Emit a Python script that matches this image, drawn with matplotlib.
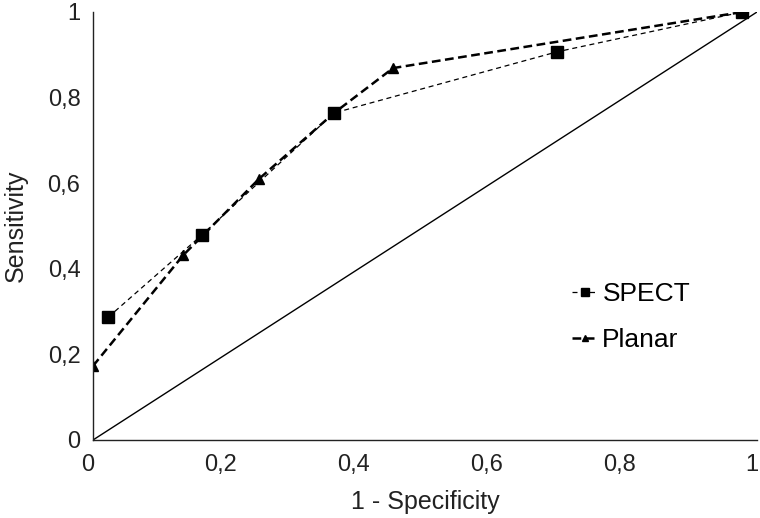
import matplotlib
matplotlib.use("Agg")
import matplotlib.pyplot as plt
import matplotlib.transforms as mtransforms

plt.rcParams['font.family'] = ['Liberation Sans', 'DejaVu Sans']

# Data (1 - specificity, sensitivity)
spect_x = [0.023, 0.164, 0.363, 0.699, 0.978]
spect_y = [0.287, 0.479, 0.764, 0.907, 1.0]
planar_x = [0.0, 0.136, 0.25, 0.363, 0.452, 0.978]
planar_y = [0.173, 0.432, 0.610, 0.764, 0.869, 1.0]
diag = [0.0, 1.0]
tick_vals = [0, 0.2, 0.4, 0.6, 0.8, 1.0]
tick_labels = ["0", "0,2", "0,4", "0,6", "0,8", "1"]

fig = plt.figure(figsize=(7.6, 5.18), dpi=100)
ax = fig.add_axes([93/760, 78/518, (757-93)/760, (440-12)/518])

ax.plot(diag, diag, color='black', lw=1.0, zorder=1)
ax.plot(planar_x, planar_y, color='black', lw=1.8, ls=(0, (3.5, 1.8)),
        marker='^', markersize=7, label='Planar', zorder=2)
ax.plot(spect_x, spect_y, color='black', lw=0.9, ls=(0, (4, 3)),
        marker='s', markersize=8, label='SPECT', zorder=3)

ax.set_xlim(0, 1)
ax.set_ylim(0, 1)
ax.set_xticks(tick_vals)
ax.set_xticklabels(tick_labels)
ax.set_yticks(tick_vals)
ax.set_yticklabels(tick_labels)
ax.tick_params(axis='both', length=0, labelsize=17, colors='#222222')
ax.tick_params(axis='x', pad=10)
ax.tick_params(axis='y', pad=9)
shift = mtransforms.ScaledTranslation(-5/100, 0, fig.dpi_scale_trans)
for lab in ax.get_xticklabels():
    lab.set_transform(lab.get_transform() + shift)
for s in ['top', 'right']:
    ax.spines[s].set_visible(False)
for s in ['left', 'bottom']:
    ax.spines[s].set_color('#222222')
    ax.spines[s].set_linewidth(1.0)

ax.set_xlabel('1 - Specificity', fontsize=18, labelpad=10, color='#222222')
ax.set_ylabel('Sensitivity', fontsize=18, labelpad=14, color='#222222')

handles, labels = ax.get_legend_handles_labels()
order = [1, 0]
leg = ax.legend([handles[i] for i in order], [labels[i] for i in order],
                frameon=False, fontsize=19, markerscale=0.7,
                handlelength=0.95, handletextpad=0.2, labelspacing=0.85,
                borderpad=0, borderaxespad=0,
                loc='upper left', bbox_to_anchor=(572/760, 1 - 282/518),
                bbox_transform=fig.transFigure)

fig.savefig('out.png', dpi=100)
